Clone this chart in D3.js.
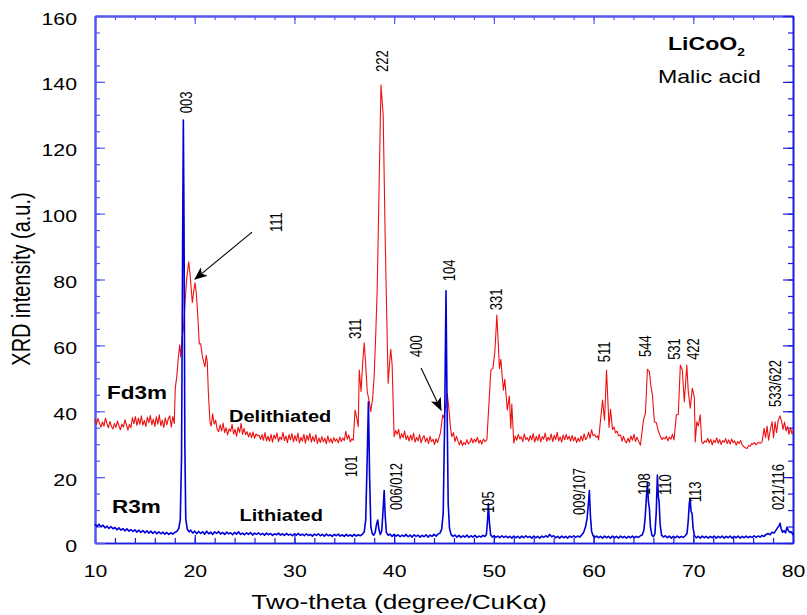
<!DOCTYPE html>
<html>
<head>
<meta charset="utf-8">
<script src="https://cdn.jsdelivr.net/npm/d3@7"></script>
<style>
  body { margin: 0; background: #fff; }
  svg { display: block; font-family: "Liberation Sans", Arial, sans-serif; }
</style>
</head>
<body>
<svg id="chart"></svg>
<script>
// Delithiated (Fd3m) pattern, [two-theta, intensity]
const delithiated = [
  [10.0,37.5],[10.15,36.0],[10.3,37.8],[10.45,36.4],[10.6,35.2],[10.75,36.8],[10.9,35.5],[11.05,37.9],[11.2,36.2],[11.35,35.0],
  [11.5,36.9],[11.65,35.4],[11.8,34.6],[11.95,36.3],[12.1,35.1],[12.25,37.0],[12.4,35.6],[12.55,34.4],[12.7,36.1],[12.85,35.2],
  [13.0,37.4],[13.15,35.9],[13.3,34.3],[13.45,36.0],[13.6,35.0],[13.75,38.1],[13.9,36.2],[14.05,38.4],[14.2,35.7],[14.35,37.9],
  [14.5,36.0],[14.65,38.6],[14.8,35.8],[14.95,37.2],[15.1,35.3],[15.25,38.2],[15.4,36.5],[15.55,38.7],[15.7,35.9],[15.85,37.6],
  [16.0,35.4],[16.15,38.3],[16.3,36.1],[16.45,38.9],[16.6,35.6],[16.75,37.3],[16.9,35.1],[17.05,38.0],[17.2,35.9],[17.35,37.7],
  [17.5,38.6],[17.65,35.2],[17.8,38.4],[17.95,36.3],[18.05,47.0],[18.2,50.5],[18.35,56.0],[18.5,60.2],[18.6,56.5],[18.75,62.5],
  [18.9,66.0],[19.05,74.0],[19.2,80.5],[19.4,85.4],[19.55,81.0],[19.76,73.0],[19.9,76.5],[20.03,79.0],[20.15,76.0],[20.26,71.5],
  [20.46,60.4],[20.6,60.5],[20.76,56.8],[20.9,55.0],[21.03,53.5],[21.15,57.0],[21.26,55.0],[21.37,45.5],[21.53,36.8],[21.65,35.5],
  [21.8,39.2],[21.95,36.1],[22.1,37.3],[22.25,34.6],[22.4,33.8],[22.55,35.9],[22.7,34.0],[22.85,36.4],[23.0,33.5],[23.15,35.0],
  [23.3,32.8],[23.45,34.7],[23.6,33.9],[23.75,36.0],[23.9,33.1],[24.05,34.5],[24.2,32.4],[24.35,35.2],[24.5,33.6],[24.65,36.3],
  [24.8,33.0],[24.95,34.8],[25.1,32.9],[25.25,33.8],[25.4,32.2],[25.55,33.5],[25.7,32.0],[25.85,33.7],[26.0,31.8],[26.15,33.1],
  [26.3,32.6],[26.45,32.7],[26.6,31.5],[26.75,32.9],[26.9,31.2],[27.05,33.5],[27.2,31.0],[27.35,32.4],[27.5,30.9],[27.65,33.0],
  [27.8,30.6],[27.95,32.8],[28.1,31.6],[28.25,33.4],[28.4,30.8],[28.55,32.2],[28.7,31.4],[28.85,33.6],[29.0,31.1],[29.15,32.5],
  [29.3,30.5],[29.45,32.9],[29.6,31.3],[29.75,33.2],[29.9,30.7],[30.05,32.6],[30.2,31.0],[30.35,33.4],[30.5,30.4],[30.65,32.1],
  [30.8,30.9],[30.95,33.0],[31.1,30.3],[31.25,32.7],[31.4,31.2],[31.55,33.3],[31.7,30.6],[31.85,32.4],[32.0,30.8],[32.15,32.9],
  [32.3,30.2],[32.45,31.9],[32.6,30.5],[32.75,32.3],[32.9,30.7],[33.05,31.8],[33.2,30.1],[33.35,32.5],[33.5,30.6],[33.65,31.7],
  [33.8,30.3],[33.95,32.0],[34.1,30.9],[34.25,31.6],[34.4,30.4],[34.55,32.2],[34.7,30.8],[34.85,31.9],[35.0,31.1],[35.15,33.9],
  [35.3,31.5],[35.45,32.8],[35.6,30.7],[35.75,31.6],[35.9,31.2],[36.08,40.4],[36.25,38.0],[36.4,35.3],[36.5,52.5],[36.68,46.0],
  [36.85,55.0],[37.0,60.8],[37.15,54.0],[37.3,46.0],[37.5,43.0],[37.65,39.9],[37.85,44.0],[38.0,51.0],[38.15,63.0],[38.3,76.8],
  [38.5,110.0],[38.68,139.0],[38.9,130.0],[39.1,93.0],[39.25,70.0],[39.4,48.5],[39.55,55.0],[39.66,58.8],[39.8,54.0],[39.9,43.0],
  [40.0,32.3],[40.15,34.2],[40.3,33.0],[40.45,34.5],[40.6,31.6],[40.75,33.2],[40.9,32.0],[41.05,34.0],[41.2,31.4],[41.35,32.6],
  [41.5,30.9],[41.65,32.8],[41.8,31.2],[41.95,33.4],[42.1,30.6],[42.25,32.1],[42.4,31.0],[42.55,32.9],[42.7,30.4],[42.85,31.8],
  [43.0,32.6],[43.15,30.7],[43.3,31.9],[43.45,30.2],[43.6,32.4],[43.75,30.8],[43.9,31.5],[44.05,29.9],[44.2,31.7],[44.35,30.5],
  [44.5,32.0],[44.65,33.5],[44.87,38.9],[45.0,38.0],[45.15,41.5],[45.33,45.4],[45.53,39.4],[45.65,35.0],[45.78,32.3],[45.95,33.5],
  [46.1,30.8],[46.25,32.4],[46.4,31.0],[46.55,29.8],[46.7,31.2],[46.85,29.6],[47.0,30.5],[47.15,29.9],[47.3,31.4],[47.45,30.1],
  [47.6,30.6],[47.75,31.8],[47.9,30.4],[48.05,31.5],[48.2,30.7],[48.35,32.1],[48.5,30.3],[48.65,31.2],[48.8,30.0],[48.95,31.6],
  [49.1,30.8],[49.3,31.3],[49.5,42.0],[49.7,52.5],[49.9,53.0],[50.1,58.0],[50.3,69.2],[50.45,60.0],[50.56,53.0],[50.7,55.8],
  [50.85,50.0],[50.96,46.4],[51.1,49.7],[51.2,46.0],[51.35,40.4],[51.55,44.6],[51.7,34.8],[51.8,42.2],[52.0,30.3],[52.15,32.5],
  [52.3,31.2],[52.45,33.0],[52.6,31.6],[52.75,32.2],[52.9,30.8],[53.05,33.1],[53.2,31.4],[53.35,32.0],[53.5,30.9],[53.65,32.6],
  [53.8,31.3],[53.95,33.2],[54.1,30.6],[54.25,32.4],[54.4,31.1],[54.55,33.0],[54.7,30.7],[54.85,32.3],[55.0,31.5],[55.15,33.4],
  [55.3,30.9],[55.45,32.1],[55.6,31.2],[55.75,33.1],[55.9,30.8],[56.05,32.7],[56.2,31.4],[56.35,33.6],[56.5,31.0],[56.65,32.2],
  [56.8,30.6],[56.95,32.8],[57.1,31.3],[57.25,33.0],[57.4,31.5],[57.55,32.4],[57.7,30.9],[57.85,32.6],[58.0,31.0],[58.15,32.2],
  [58.3,30.5],[58.45,31.8],[58.6,30.8],[58.75,32.5],[58.9,31.0],[59.05,33.1],[59.2,31.4],[59.35,32.0],[59.5,33.6],[59.65,31.8],
  [59.8,34.4],[59.95,32.6],[60.1,33.0],[60.25,32.1],[60.4,32.5],[60.5,31.3],[60.7,37.3],[60.9,43.4],[61.1,37.3],[61.3,52.5],
  [61.55,35.1],[61.7,40.6],[61.9,34.5],[62.05,35.2],[62.2,33.4],[62.35,34.0],[62.5,32.6],[62.7,32.8],[62.85,30.9],[63.0,32.4],
  [63.15,31.0],[63.3,30.4],[63.45,31.8],[63.6,30.6],[63.75,32.5],[63.9,31.2],[64.05,33.0],[64.2,30.8],[64.35,32.1],[64.5,31.0],
  [64.7,29.7],[64.85,33.5],[65.0,37.3],[65.2,39.4],[65.4,52.7],[65.6,52.0],[65.76,47.4],[65.9,45.0],[66.1,36.8],[66.3,36.5],
  [66.5,34.0],[66.7,32.3],[66.85,31.4],[67.0,32.0],[67.15,31.6],[67.3,32.4],[67.45,31.0],[67.6,32.2],[67.75,31.5],[67.9,33.0],
  [68.07,31.3],[68.3,38.9],[68.5,39.0],[68.7,54.0],[68.9,52.5],[69.1,42.9],[69.35,54.0],[69.5,45.9],[69.7,40.9],[69.9,47.0],
  [70.1,44.4],[70.2,30.7],[70.35,36.8],[70.5,35.5],[70.7,38.9],[70.85,30.7],[71.0,30.2],[71.15,31.0],[71.3,30.6],[71.45,31.8],
  [71.6,30.4],[71.75,31.5],[71.9,29.8],[72.05,31.2],[72.2,30.5],[72.35,31.9],[72.5,30.3],[72.65,31.4],[72.8,29.9],[72.95,31.1],
  [73.1,30.6],[73.25,31.7],[73.4,30.2],[73.55,31.3],[73.7,30.0],[73.85,31.6],[74.0,30.4],[74.15,31.0],[74.3,29.7],[74.45,30.8],
  [74.6,30.2],[74.75,31.1],[74.9,29.8],[75.05,29.3],[75.2,28.9],[75.4,28.7],[75.55,29.6],[75.7,29.4],[75.85,30.2],[76.0,30.0],
  [76.15,30.5],[76.3,29.8],[76.5,30.6],[76.7,30.3],[76.9,30.7],[77.1,34.8],[77.25,32.0],[77.4,35.5],[77.55,31.2],[77.7,34.0],
  [77.9,36.8],[78.05,32.0],[78.2,36.8],[78.35,33.5],[78.5,37.0],[78.7,38.6],[78.85,37.0],[79.0,34.5],[79.15,36.7],[79.3,34.0],
  [79.45,35.4],[79.6,33.0],[79.75,35.0],[79.9,33.1],[80.0,34.0]
];

// Lithiated (R3m) pattern, [two-theta, intensity]
const lithiated = [
  [10.0,5.8],[10.2,5.0],[10.4,5.7],[10.6,4.9],[10.8,5.4],[11.0,4.6],[11.2,5.1],[11.4,4.4],[11.6,5.0],[11.8,4.3],
  [12.0,4.7],[12.2,4.0],[12.4,4.6],[12.6,3.9],[12.8,4.4],[13.0,3.7],[13.2,4.3],[13.4,3.6],[13.6,4.1],[13.8,3.5],
  [14.0,4.0],[14.2,3.3],[14.4,3.9],[14.6,3.2],[14.8,3.8],[15.0,3.1],[15.2,3.7],[15.4,3.0],[15.6,3.6],[15.8,2.9],
  [16.0,3.5],[16.2,2.8],[16.4,3.4],[16.6,2.8],[16.8,3.3],[17.0,2.7],[17.2,3.2],[17.4,2.6],[17.6,3.1],[17.8,2.7],
  [18.0,3.2],[18.2,3.5],[18.4,4.4],[18.55,7.0],[18.68,26],[18.79,92],[18.86,128.4],[18.93,96],[19.01,30],[19.1,7.5],
  [19.25,4.2],[19.45,3.4],[19.6,3.9],[19.8,3.0],[20.0,3.6],[20.2,2.8],[20.4,3.5],[20.6,2.9],[20.8,3.4],[21.0,2.7],
  [21.2,3.6],[21.4,2.8],[21.6,3.3],[21.8,2.6],[22.0,3.4],[22.2,2.9],[22.4,3.5],[22.6,2.7],[22.8,3.2],[23.0,2.6],
  [23.2,3.3],[23.4,2.8],[23.6,3.1],[23.8,2.5],[24.0,3.2],[24.2,2.7],[24.4,3.4],[24.6,2.6],[24.8,3.0],[25.0,2.5],
  [25.2,3.1],[25.4,2.6],[25.6,3.2],[25.8,2.4],[26.0,3.0],[26.2,2.6],[26.4,3.1],[26.6,2.5],[26.8,2.9],[27.0,2.4],
  [27.2,3.0],[27.4,2.5],[27.6,2.9],[27.8,2.3],[28.0,2.8],[28.2,2.5],[28.4,3.0],[28.6,2.4],[28.8,2.8],[29.0,2.3],
  [29.2,2.9],[29.4,2.4],[29.6,2.7],[29.8,2.2],[30.0,2.8],[30.2,2.4],[30.4,2.9],[30.6,2.3],[30.8,2.7],[31.0,2.2],
  [31.2,2.8],[31.4,2.3],[31.6,2.6],[31.8,2.1],[32.0,2.7],[32.2,2.3],[32.4,2.8],[32.6,2.2],[32.8,2.6],[33.0,2.1],
  [33.2,2.7],[33.4,2.2],[33.6,2.5],[33.8,2.0],[34.0,2.6],[34.2,2.2],[34.4,2.7],[34.6,2.1],[34.8,2.5],[35.0,2.0],
  [35.2,2.6],[35.4,2.1],[35.6,2.5],[35.8,2.0],[36.0,2.6],[36.2,2.1],[36.4,2.5],[36.6,2.2],[36.8,2.6],[37.0,3.4],
  [37.15,7],[37.3,26],[37.42,42.9],[37.54,20],[37.66,5],[37.8,2.9],[37.95,2.4],[38.1,3.2],[38.22,5.5],[38.35,7.0],
  [38.48,4.0],[38.62,2.6],[38.76,3.8],[38.88,9.5],[39.0,15.9],[39.1,8.5],[39.22,3.2],[39.4,2.3],[39.6,2.7],[39.8,2.0],
  [40.0,2.6],[40.2,2.1],[40.4,2.5],[40.6,1.9],[40.8,2.4],[41.0,2.0],[41.2,2.6],[41.4,1.9],[41.6,2.4],[41.8,1.8],
  [42.0,2.5],[42.2,2.0],[42.4,2.4],[42.6,1.8],[42.8,2.3],[43.0,1.9],[43.2,2.5],[43.4,1.8],[43.6,2.4],[43.8,2.0],
  [44.0,2.6],[44.2,2.1],[44.4,2.7],[44.6,3.0],[44.77,4.2],[44.92,9],[45.07,38],[45.2,76.6],[45.3,44],[45.42,12],
  [45.55,4.5],[45.7,2.6],[45.9,2.0],[46.1,2.4],[46.3,1.8],[46.5,2.3],[46.7,1.7],[46.9,2.2],[47.1,1.8],[47.3,2.4],
  [47.5,1.7],[47.7,2.2],[47.9,1.8],[48.1,2.3],[48.3,1.7],[48.5,2.1],[48.7,1.8],[48.9,2.3],[49.1,2.0],[49.25,2.6],
  [49.35,6],[49.45,12],[49.55,6.5],[49.68,2.4],[49.85,1.8],[50.0,2.2],[50.2,1.7],[50.4,2.1],[50.6,1.6],[50.8,2.2],
  [51.0,1.7],[51.2,2.1],[51.4,1.6],[51.6,2.0],[51.8,1.5],[52.0,2.1],[52.2,1.6],[52.4,2.0],[52.6,1.5],[52.8,2.1],
  [53.0,1.6],[53.2,2.2],[53.4,1.7],[53.6,2.0],[53.8,1.5],[54.0,2.1],[54.2,1.6],[54.4,2.0],[54.6,1.5],[54.8,2.1],
  [55.0,1.7],[55.2,2.2],[55.4,1.8],[55.6,2.6],[55.8,1.9],[56.0,2.2],[56.2,1.6],[56.4,2.0],[56.6,1.5],[56.8,2.1],
  [57.0,1.6],[57.2,2.0],[57.4,1.5],[57.6,2.1],[57.8,1.7],[58.0,2.2],[58.2,1.7],[58.4,2.1],[58.6,1.8],[58.8,2.4],
  [59.0,3.2],[59.2,5.0],[59.35,7.5],[59.48,12],[59.58,15.9],[59.68,8.5],[59.8,3.6],[59.95,2.2],[60.1,1.7],[60.3,2.1],
  [60.5,1.6],[60.7,2.0],[60.9,1.5],[61.1,2.1],[61.3,1.6],[61.5,2.0],[61.7,1.5],[61.9,2.1],[62.1,1.6],[62.3,2.0],
  [62.5,1.5],[62.7,2.1],[62.9,1.6],[63.1,2.0],[63.3,1.5],[63.5,2.0],[63.7,1.6],[63.9,2.1],[64.1,1.6],[64.3,2.0],
  [64.5,1.7],[64.7,2.2],[64.9,2.5],[65.05,4],[65.18,8],[65.3,14],[65.4,18.3],[65.5,12.5],[65.6,10.5],[65.7,5],
  [65.85,2.4],[66.0,1.9],[66.15,2.8],[66.28,9],[66.4,20.6],[66.5,14],[66.57,12.5],[66.68,5.5],[66.82,2.4],[67.0,1.8],
  [67.2,2.2],[67.4,1.6],[67.6,2.1],[67.8,1.5],[68.0,2.0],[68.2,1.6],[68.4,2.1],[68.6,1.6],[68.8,2.0],[69.0,1.7],
  [69.2,2.2],[69.38,3.0],[69.5,7],[69.6,12],[69.68,13.6],[69.78,9.5],[69.88,9.0],[69.98,4.5],[70.12,2.2],[70.3,1.6],
  [70.5,2.0],[70.7,1.5],[70.9,2.1],[71.1,1.6],[71.3,2.0],[71.5,1.5],[71.7,2.0],[71.9,1.6],[72.1,2.1],[72.3,1.5],
  [72.5,2.0],[72.7,1.6],[72.9,2.1],[73.1,1.5],[73.3,2.0],[73.5,1.6],[73.7,2.1],[73.9,1.5],[74.1,2.0],[74.3,1.6],
  [74.5,2.1],[74.7,1.5],[74.9,2.0],[75.1,1.6],[75.3,2.1],[75.5,1.6],[75.7,2.0],[75.9,1.7],[76.1,2.2],[76.3,1.7],
  [76.5,2.1],[76.7,1.8],[76.9,2.3],[77.1,2.0],[77.3,2.6],[77.5,2.9],[77.7,2.5],[77.9,3.3],[78.1,3.0],[78.3,3.9],
  [78.45,4.6],[78.6,5.2],[78.7,6.0],[78.8,4.5],[78.95,3.3],[79.1,3.7],[79.25,3.1],[79.4,4.8],[79.55,3.7],[79.7,3.2],
  [79.85,3.4],[80.0,2.4]
];

// Miller index labels: [text, two-theta, intensity where the text starts]
const cubicLabels = [
  ["111", 28.15, 94.4], ["311", 36.08, 61.9], ["222", 38.79, 143.0], ["400", 42.2, 56.5],
  ["331", 50.22, 70.7], ["511", 61.05, 54.9], ["544", 65.17, 56.5], ["531", 68.07, 55.6],
  ["422", 69.98, 55.6], ["533/622", 78.16, 41.3]
];
const layeredLabels = [
  ["003", 19.13, 130.5], ["101", 35.73, 20.0], ["006/012", 40.24, 10.0], ["104", 45.56, 79.5],
  ["105", 49.42, 9.1], ["009/107", 58.6, 8.5], ["108", 65.12, 14.6], ["110", 67.22, 14.6],
  ["113", 70.23, 12.4], ["021/116", 78.55, 10.0]
];

// arrows pointing at weak cubic reflections: [from, to]
const arrows = [
  [[25.75, 94.4], [20.03, 80.1]],
  [[42.7, 53.1], [44.7, 40.4]]
];

const xTicks = [10, 20, 30, 40, 50, 60, 70, 80];
const yTicks = [0, 20, 40, 60, 80, 100, 120, 140, 160];

const config = {
  width: 807,
  height: 615,
  margin: { top: 16, right: 14, bottom: 72, left: 95 },
  stretch: 1.25 // source figure was scaled wider than tall
};

const innerW = config.width - config.margin.left - config.margin.right;
const innerH = config.height - config.margin.top - config.margin.bottom;
const sx = config.stretch;

const x = d3.scaleLinear().domain([10, 80]).range([0, innerW]);
const y = d3.scaleLinear().domain([0, 160]).range([innerH, 0]);

const svg = d3.select("#chart")
  .attr("width", config.width)
  .attr("height", config.height);

svg.append("rect").attr("width", config.width).attr("height", config.height).attr("fill", "#fff");

svg.append("defs").append("marker")
  .attr("id", "arrowhead")
  .attr("viewBox", "0 0 12 10")
  .attr("refX", 11)
  .attr("refY", 5)
  .attr("markerWidth", 13)
  .attr("markerHeight", 11)
  .attr("markerUnits", "userSpaceOnUse")
  .attr("orient", "auto")
  .append("path")
  .attr("d", "M0,0 L12,5 L0,10 L3,5 Z")
  .attr("fill", "#000");

const chart = svg.append("g")
  .attr("transform", `translate(${config.margin.left},${config.margin.top})`);

// --- axes (ticks point inward on all four sides)
const minorX = d3.range(10, 80.01, 2);
const minorY = d3.range(0, 160.01, 5);

function styleAxis(g, color, width) {
  g.select(".domain").attr("stroke", color).attr("stroke-width", width);
  g.selectAll(".tick line").attr("stroke", color).attr("stroke-width", 1.2);
}

chart.append("g")
  .attr("transform", `translate(0,${innerH})`)
  .call(d3.axisBottom(x).tickValues(minorX).tickSizeInner(-5).tickSizeOuter(0).tickFormat(""))
  .call(g => styleAxis(g, "#1c1ce0", 1.6));

const xAxis = chart.append("g")
  .attr("transform", `translate(0,${innerH})`)
  .call(d3.axisBottom(x).tickValues(xTicks).tickSizeInner(-8).tickSizeOuter(0))
  .call(g => styleAxis(g, "#1c1ce0", 1.6));

xAxis.selectAll("text")
  .attr("y", null).attr("dy", null)
  .attr("transform", `translate(0,34) scale(${sx},1)`)
  .attr("fill", "#000")
  .style("font-size", "17px");

chart.append("g")
  .call(d3.axisTop(x).tickValues(minorX).tickSizeInner(-4).tickSizeOuter(0).tickFormat(""))
  .call(g => styleAxis(g, "#5858f0", 2));
chart.append("g")
  .call(d3.axisTop(x).tickValues(xTicks).tickSizeInner(-8).tickSizeOuter(0).tickFormat(""))
  .call(g => styleAxis(g, "#5858f0", 2));

chart.append("g")
  .call(d3.axisLeft(y).tickValues(minorY).tickSizeInner(-5).tickSizeOuter(0).tickFormat(""))
  .call(g => styleAxis(g, "#5858f0", 2));

const yAxis = chart.append("g")
  .call(d3.axisLeft(y).tickValues(yTicks).tickSizeInner(-10).tickSizeOuter(0))
  .call(g => styleAxis(g, "#5858f0", 2));

yAxis.selectAll("text")
  .attr("x", null).attr("dy", null)
  .attr("transform", `translate(-18,8) scale(${sx},1)`)
  .attr("text-anchor", "end")
  .attr("fill", "#000")
  .style("font-size", "17px");

chart.append("g")
  .attr("transform", `translate(${innerW},0)`)
  .call(d3.axisRight(y).tickValues(minorY).tickSizeInner(-5).tickSizeOuter(0).tickFormat(""))
  .call(g => styleAxis(g, "#1c1ce0", 1.6));
chart.append("g")
  .attr("transform", `translate(${innerW},0)`)
  .call(d3.axisRight(y).tickValues(yTicks).tickSizeInner(-10).tickSizeOuter(0).tickFormat(""))
  .call(g => styleAxis(g, "#1c1ce0", 1.6));

// --- patterns
const line = d3.line().x(d => x(d[0])).y(d => y(d[1]));

chart.append("path")
  .datum(delithiated)
  .attr("d", line)
  .attr("fill", "none")
  .attr("stroke", "#ee1010")
  .attr("stroke-width", 1.1)
  .attr("stroke-linejoin", "round");

chart.append("path")
  .datum(lithiated)
  .attr("d", line)
  .attr("fill", "none")
  .attr("stroke", "#0000d8")
  .attr("stroke-width", 1.6)
  .attr("stroke-linejoin", "round");

// --- reflection labels, rotated to read bottom-up
chart.append("g")
  .selectAll("text")
  .data(cubicLabels.concat(layeredLabels))
  .join("text")
  .attr("transform", d => `translate(${x(d[1])},${y(d[2])}) scale(${sx},1) rotate(-90)`)
  .attr("dy", "0.36em")
  .style("font-size", "13px")
  .attr("fill", "#000")
  .text(d => d[0]);

chart.append("g")
  .selectAll("line")
  .data(arrows)
  .join("line")
  .attr("x1", d => x(d[0][0]))
  .attr("y1", d => y(d[0][1]))
  .attr("x2", d => x(d[1][0]))
  .attr("y2", d => y(d[1][1]))
  .attr("stroke", "#000")
  .attr("stroke-width", 1.1)
  .attr("marker-end", "url(#arrowhead)");

// --- phase / sample annotations
function note(px, py, size, weight, str) {
  return chart.append("text")
    .attr("transform", `translate(${px},${py}) scale(${sx},1)`)
    .style("font-size", size + "px")
    .style("font-weight", weight)
    .attr("fill", "#000")
    .text(str);
}

note(x(11.2), y(43.7), 18, "bold", "Fd3m");
note(x(23.44), y(36.8), 16, "bold", "Delithiated");
note(x(11.7), y(9.1), 18, "bold", "R3m");
note(x(24.5), y(6.7), 16, "bold", "Lithiated");

const title = note(573, 34, 18.5, "bold", "LiCoO");
title.append("tspan").attr("dy", 6).style("font-size", "11px").text("2");
note(563, 67, 18.5, "normal", "Malic acid");

// --- axis titles
svg.append("text")
  .attr("transform", `translate(${config.margin.left + innerW / 2 - 45},609) scale(${sx},1)`)
  .attr("text-anchor", "middle")
  .style("font-size", "21px")
  .attr("fill", "#000")
  .text("Two-theta (degree/CuKα)");

svg.append("text")
  .attr("transform", `translate(30,279) scale(${sx},1) rotate(-90)`)
  .attr("text-anchor", "middle")
  .style("font-size", "20px")
  .attr("fill", "#000")
  .text("XRD intensity (a.u.)");
</script>
</body>
</html>
